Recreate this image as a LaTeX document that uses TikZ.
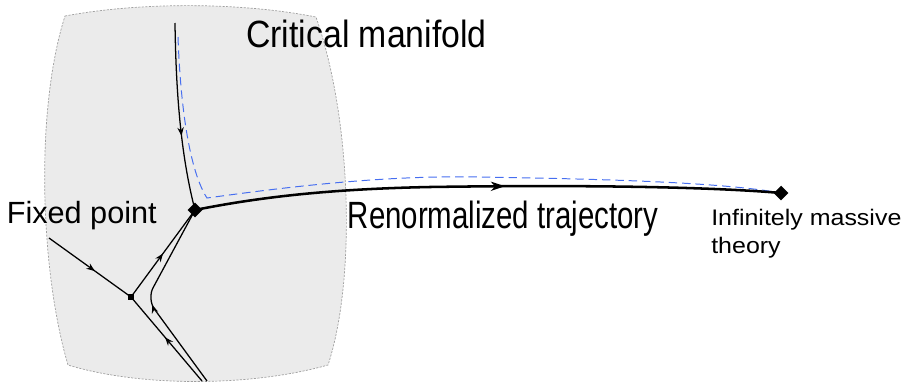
\documentclass[tikz,border=0pt]{standalone}
\usepackage{fontspec}
\setmainfont{Liberation Sans}
\newfontfamily\widefont[FakeStretch=1.11]{Liberation Sans}
\newfontfamily\critfont[FakeStretch=0.89]{Liberation Sans}
\newfontfamily\trajfont[FakeStretch=0.775]{Liberation Sans}
\usetikzlibrary{arrows.meta,decorations.markings,shapes.geometric}
\definecolor{manifold}{RGB}{235,235,235}
\definecolor{rimgray}{RGB}{160,160,160}
\definecolor{ghostblue}{RGB}{70,110,240}

\begin{document}
\begin{tikzpicture}[x=0.025cm,y=-0.025cm,
  flow/.style={line width=0.9pt},%lignes fines du flot
  trajectory/.style={line width=1.8pt},%trajectoire renormalisee
  arrowat/.style={postaction={decorate},decoration={markings,
    mark=at position #1 with {\arrow{Stealth[length=6pt,width=4.6pt,inset=2pt]}}}},
  bigarrowat/.style={postaction={decorate},decoration={markings,
    mark=at position #1 with {\arrow{Stealth[length=10pt,width=6.5pt,inset=3pt]}}}},
  bigfix/.style={diamond,fill=black,inner sep=0pt,minimum size=10.5pt},
  smallfix/.style={rectangle,fill=black,inner sep=0pt,minimum size=4.6pt},
  label/.style={inner sep=0pt,anchor=base west}]
\useasboundingbox (0,0) rectangle (912,382);

% la variete critique
\filldraw[fill=manifold,draw=rimgray,line width=0.5pt,dash pattern=on 1.5pt off 1pt]
  (65,16) .. controls (140,2) and (240,2) .. (316,17)
  .. controls (352,120) and (356,280) .. (328,365)
  .. controls (250,387) and (140,387) .. (68,365)
  .. controls (40,270) and (35,110) .. (65,16) -- cycle;

% points fixes
\coordinate (fp) at (195,210);
\coordinate (mass) at (781,193);
\coordinate (saddle) at (131,297);
\coordinate (topin) at (175,23);
\coordinate (leftin) at (49,238);
\coordinate (botin) at (202,381);
\coordinate (botout) at (207,381);

% trajectoire voisine en pointilles
\draw[ghostblue,line width=0.7pt,dash pattern=on 6pt off 3.5pt]
  (178,37) .. controls (181,120) and (192,175) .. (207,198)
  .. controls (280,188) and (380,175) .. (480,177)
  .. controls (600,179) and (720,182) .. (mass);

\draw[flow,arrowat=0.6] (topin) .. controls (176,100) and (182,160) .. (fp);
\draw[trajectory,bigarrowat=0.53] (fp) .. controls (260,197) and (330,189) .. (430,187)
  .. controls (560,185) and (700,186) .. (mass);

\draw[flow,arrowat=0.56] (leftin) -- (saddle);
\draw[flow,arrowat=0.5] (saddle) -- (fp);
\draw[flow,arrowat=0.52] (botin) -- (saddle);
\draw[flow,rounded corners=9pt,arrowat=0.47] (botout) -- (147,299) -- (fp);

\node[bigfix] (fpnode) at (fp) {};
\node[bigfix] (massnode) at (mass) {};
\node[smallfix] (saddlenode) at (saddle) {};

% textes
\node[label,font=\critfont\fontsize{27pt}{30pt}\selectfont] (crit) at (246,47) {Critical manifold};
\node[label,font=\trajfont\fontsize{27pt}{30pt}\selectfont] (traj) at (347.5,228) {Renormalized trajectory};
\node[label,font=\fontsize{21.8pt}{25pt}\selectfont] (fixed) at (6.5,223) {Fixed point};
\node[label,font=\widefont\fontsize{16pt}{19.9pt}\selectfont,align=left] (massive) at (711,253)
  {Infinitely massive\\theory};

\end{tikzpicture}
\end{document}
